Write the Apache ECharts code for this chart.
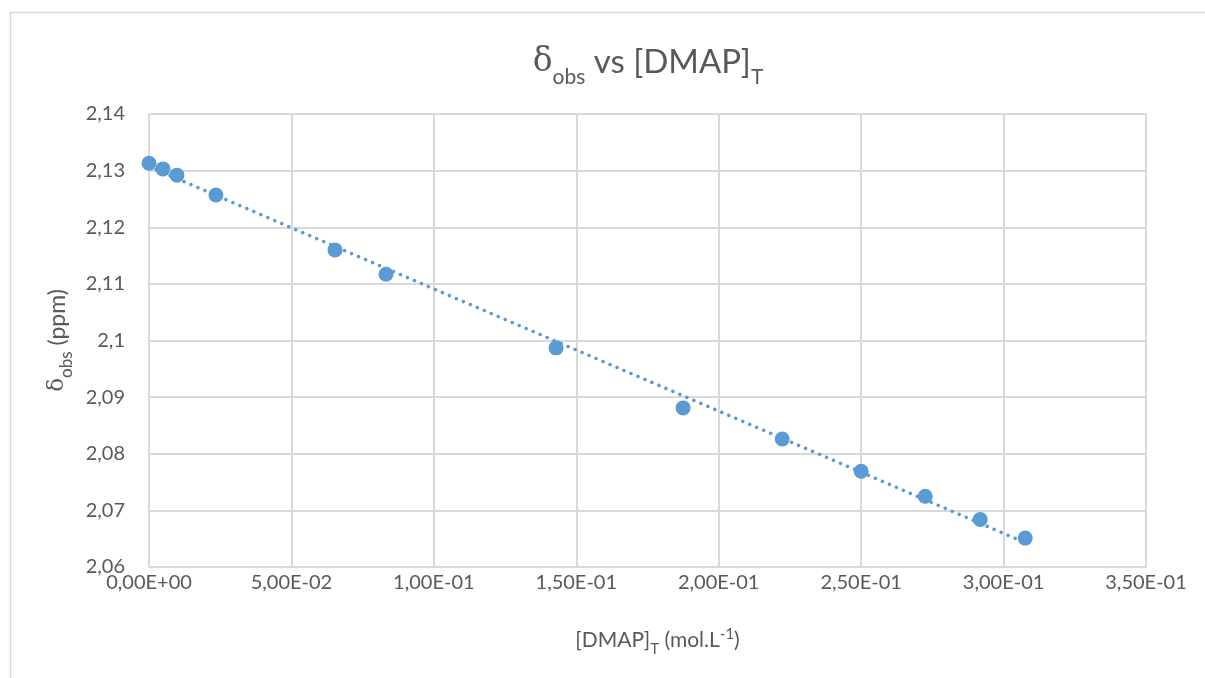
<!DOCTYPE html>
<html>
<head>
<meta charset="utf-8">
<title>δobs vs [DMAP]T</title>
<script src="https://cdn.jsdelivr.net/npm/echarts@6/dist/echarts.min.js"></script>
<style>
  html, body { margin: 0; padding: 0; background: #fff; }
  #chart { width: 1205px; height: 678px; }
</style>
</head>
<body>
<div id="chart"></div>
<script>
// concentrations [DMAP]T (mol/L) and observed shifts (ppm)
const concDMAP = [0, 0.0049, 0.0098, 0.0235, 0.0653, 0.0832, 0.1429, 0.1875, 0.2223, 0.25, 0.2725, 0.2918, 0.3076];
const deltaObs = [2.1313, 2.1303, 2.1292, 2.1257, 2.1160, 2.1117, 2.0987, 2.0881, 2.0826, 2.0769, 2.0725, 2.0684, 2.0651];
// dotted linear trendline, end points
const trendX = [0, 0.3076];
const trendY = [2.1307, 2.0643];

const blue = '#5b9bd5';
const grey = '#595959';
const font = 'Lato, "Open Sans", sans-serif';
const serif = '"DejaVu Serif", serif';

const chart = echarts.init(document.getElementById('chart'));

// 5,00E-02 style, like the spreadsheet
function sciLabel(v) {
  if (v === 0) return '0,00E+00';
  const [m, e] = v.toExponential(2).split('e');
  const ex = parseInt(e, 10);
  const sign = ex < 0 ? '-' : '+';
  const digits = String(Math.abs(ex)).padStart(2, '0');
  return m.replace('.', ',') + 'E' + sign + digits;
}

chart.setOption({
  backgroundColor: '#fff',
  animation: false,
  title: {
    text: '{d|δ}{sub|obs}{t| vs [DMAP]}{sub|T}',
    left: 643,
    textAlign: 'center',
    top: 30,
    textStyle: {
      fontWeight: 'normal',
      rich: {
        d: { fontFamily: serif, fontSize: 33, color: grey, verticalAlign: 'bottom', lineHeight: 44 },
        t: { fontFamily: font, fontSize: 33, fontWeight: 'normal', color: grey, verticalAlign: 'bottom', lineHeight: 44 },
        sub: { fontFamily: font, fontSize: 21, fontWeight: 'normal', color: grey, verticalAlign: 'bottom', lineHeight: 32, padding: [0, 0, -9, 0] }
      }
    }
  },
  grid: { left: 149, right: 59, top: 114, bottom: 111 },
  xAxis: {
    type: 'value',
    min: 0,
    max: 0.35,
    interval: 0.05,
    name: '{t|[DMAP]}{sub|T}{t| (mol.L}{sup|-1}{t|)}',
    nameLocation: 'middle',
    nameGap: 58,
    nameTextStyle: {
      padding: [0, 0, 0, 20],
      rich: {
        t: { fontFamily: font, fontSize: 21, color: grey, verticalAlign: 'bottom', lineHeight: 26 },
        sub: { fontFamily: font, fontSize: 15, color: grey, verticalAlign: 'bottom', lineHeight: 20, padding: [0, 0, -6, 0] },
        sup: { fontFamily: font, fontSize: 15, color: grey, verticalAlign: 'top', lineHeight: 20, padding: [2, 0, 0, 0] }
      }
    },
    axisLine: { lineStyle: { color: '#d9d9d9', width: 2 } },
    axisTick: { show: false },
    axisLabel: { color: grey, fontFamily: font, fontSize: 20, margin: 6, formatter: sciLabel },
    splitLine: { lineStyle: { color: '#d9d9d9', width: 2 } }
  },
  yAxis: {
    type: 'value',
    min: 2.06,
    max: 2.14,
    interval: 0.01,
    name: '{d|δ}{sub|obs}{t| (ppm)}',
    nameLocation: 'middle',
    nameRotate: 90,
    nameGap: 80,
    nameTextStyle: {
      rich: {
        d: { fontFamily: serif, fontSize: 23, color: grey, verticalAlign: 'bottom', lineHeight: 28 },
        t: { fontFamily: font, fontSize: 23, color: grey, verticalAlign: 'bottom', lineHeight: 28 },
        sub: { fontFamily: font, fontSize: 17, color: grey, verticalAlign: 'bottom', lineHeight: 22, padding: [0, 0, -6, 0] }
      }
    },
    axisLine: { show: false },
    axisTick: { show: false },
    axisLabel: {
      color: grey, fontFamily: font, fontSize: 20, margin: 24,
      formatter: v => String(Math.round(v * 100) / 100).replace('.', ',')
    },
    splitLine: { lineStyle: { color: '#d9d9d9', width: 2 } }
  },
  graphic: [{
    type: 'rect',
    silent: true,
    z: -10,
    shape: { x: 10.5, y: 12.5, width: 1210, height: 700 },
    style: { fill: 'none', stroke: '#d9d9d9', lineWidth: 1.5 }
  }],
  series: [
    {
      name: 'trend',
      type: 'line',
      data: trendX.map((x, i) => [x, trendY[i]]),
      symbol: 'none',
      lineStyle: { color: blue, width: 3.5, type: [0.1, 7.5], cap: 'round' },
      z: 1
    },
    {
      name: 'δobs',
      type: 'scatter',
      data: concDMAP.map((x, i) => [x, deltaObs[i]]),
      symbol: 'circle',
      symbolSize: 15,
      itemStyle: { color: blue, opacity: 1 },
      z: 2
    }
  ]
});
</script>
</body>
</html>
